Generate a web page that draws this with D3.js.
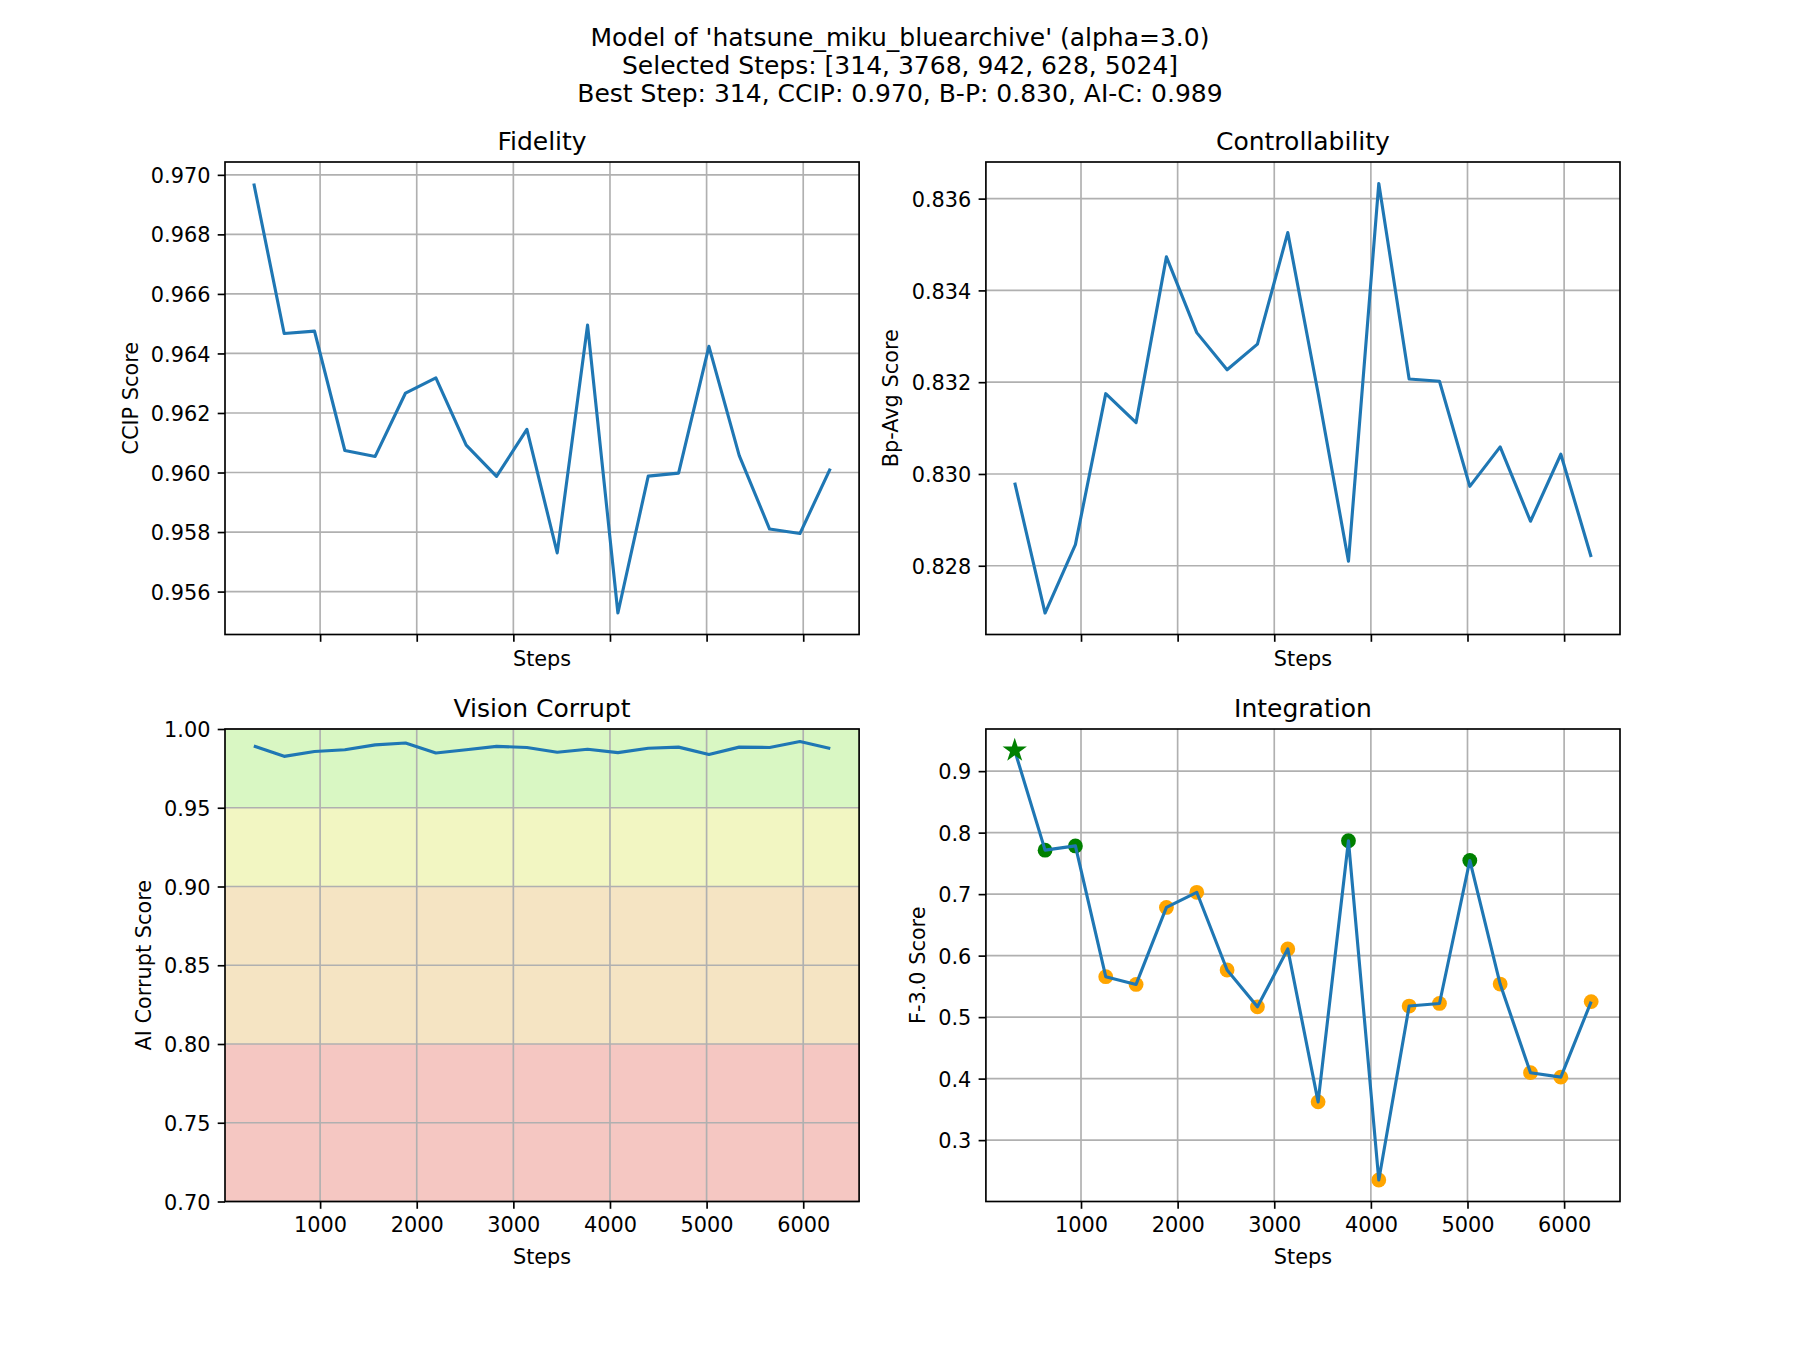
<!DOCTYPE html>
<html>
<head>
<meta charset="utf-8">
<script src="https://cdn.jsdelivr.net/npm/d3@7"></script>
<style>
  html, body { margin: 0; padding: 0; background: #ffffff; }
  svg { display: block; }
  text { font-family: "DejaVu Sans", sans-serif; fill: #000; }
</style>
</head>
<body>
<svg id="chart" width="1800" height="1350"></svg>
<script>
// ---------------- data ----------------
const steps = [314, 628, 942, 1256, 1570, 1884, 2198, 2512, 2826, 3140,
               3454, 3768, 4082, 4396, 4710, 5024, 5338, 5652, 5966, 6280];
const ccipScore = [0.96971, 0.96467, 0.96475, 0.96074, 0.96054, 0.96267, 0.96318, 0.96092, 0.95987, 0.96145,
                   0.95730, 0.96495, 0.95528, 0.95988, 0.95998, 0.96424, 0.96057, 0.95810, 0.95795, 0.96013];
const bpAvgScore = [0.82981, 0.82697, 0.82846, 0.83175, 0.83112, 0.83473, 0.83308, 0.83227, 0.83283, 0.83526,
                    0.83176, 0.82810, 0.83633, 0.83207, 0.83202, 0.82973, 0.83059, 0.82897, 0.83043, 0.82819];
const aiCorruptScore = [0.98921, 0.98264, 0.98569, 0.98686, 0.98991, 0.99108, 0.98475, 0.98686, 0.98897, 0.98827,
                        0.98522, 0.98710, 0.98498, 0.98780, 0.98850, 0.98381, 0.98850, 0.98827, 0.99202, 0.98756];
const f3Score = [0.9336, 0.7715, 0.7784, 0.5658, 0.5532, 0.6784, 0.7030, 0.5766, 0.5168, 0.6108,
                 0.3622, 0.7868, 0.2351, 0.5180, 0.5222, 0.7547, 0.5538, 0.4096, 0.4024, 0.5252];
const selectedSteps = [314, 3768, 942, 628, 5024];
const bestStep = 314;
const xTickValues = [1000, 2000, 3000, 4000, 5000, 6000];
const ccipTicks = [0.956, 0.958, 0.960, 0.962, 0.964, 0.966, 0.968, 0.970];
const bpTicks = [0.828, 0.830, 0.832, 0.834, 0.836];
const aiTicks = [0.70, 0.75, 0.80, 0.85, 0.90, 0.95, 1.00];
const f3Ticks = [0.3, 0.4, 0.5, 0.6, 0.7, 0.8, 0.9];
const bandRanges = [[0.95, 1.0], [0.9, 0.95], [0.8, 0.9], [0.7, 0.8]];
const bandColors = ["#d9f7c3", "#f2f6c2", "#f5e4c3", "#f5c7c2"];
const titleLines = [
  "Model of 'hatsune_miku_bluearchive' (alpha=3.0)",
  "Selected Steps: [314, 3768, 942, 628, 5024]",
  "Best Step: 314, CCIP: 0.970, B-P: 0.830, AI-C: 0.989"
];

// ---------------- layout ----------------
const svg = d3.select("#chart");
const FS = 20.83, TFS = 25;
const TICK = 7.3, PAD = 7.3, LPAD = 8.3;
const LW = 3.125, GRID_W = 1.67, SPINE_W = 1.67;
const BLUE = "#1f77b4";

svg.append("rect").attr("width", 1800).attr("height", 1350).attr("fill", "#fff");

// suptitle
titleLines.forEach((t, i) => {
  svg.append("text").attr("x", 900).attr("y", 45.5 + i * 28.2)
    .attr("text-anchor", "middle").attr("font-size", TFS).text(t);
});

const axW = 634.1, axH = 472.5;
const cols = [225, 985.9], rows = [162, 729];

const xPad = (d3.max(steps) - d3.min(steps)) * 0.05;
function padExtent(vals) {
  const [a, b] = d3.extent(vals); const m = (b - a) * 0.05; return [a - m, b + m];
}

function panel(opts) {
  const x0 = opts.x0, y0 = opts.y0;
  const g = svg.append("g").attr("transform", `translate(${x0},${y0})`);
  const x = d3.scaleLinear().domain([d3.min(steps) - xPad, d3.max(steps) + xPad]).range([0, axW]);
  const y = d3.scaleLinear().domain(opts.yDomain).range([axH, 0]);

  // bands
  if (opts.bands) {
    bandRanges.forEach((r, i) => {
      g.append("rect").attr("x", 0).attr("width", axW)
        .attr("y", y(r[1])).attr("height", y(r[0]) - y(r[1]))
        .attr("fill", bandColors[i]);
    });
  }
  // grid
  const grid = g.append("g");
  xTickValues.forEach(v => grid.append("line").attr("x1", x(v)).attr("x2", x(v))
    .attr("y1", 0).attr("y2", axH).attr("stroke", "#b0b0b0").attr("stroke-width", GRID_W));
  opts.yTicks.forEach(v => grid.append("line").attr("y1", y(v)).attr("y2", y(v))
    .attr("x1", 0).attr("x2", axW).attr("stroke", "#b0b0b0").attr("stroke-width", GRID_W));

  // scatter markers (drawn below line)
  if (opts.markers) {
    steps.forEach((s, i) => {
      if (s === bestStep) return;
      g.append("circle").attr("cx", x(s)).attr("cy", y(opts.values[i])).attr("r", 7.4)
        .attr("fill", selectedSteps.includes(s) ? "#008000" : "#ffa500");
    });
  }

  // line
  const line = d3.line().x((d, i) => x(steps[i])).y(d => y(d));
  g.append("path").datum(opts.values).attr("d", line).attr("fill", "none")
    .attr("stroke", BLUE).attr("stroke-width", LW).attr("stroke-linejoin", "round");

  if (opts.markers) {
    const bi = steps.indexOf(bestStep);
    const star = d3.symbol().type(d3.symbolStar).size(Math.PI * 0); // placeholder
    // build star path manually (matplotlib-like 5 point star)
    const R = 12.8, r = R * 0.381966;
    const pts = [];
    for (let k = 0; k < 10; k++) {
      const ang = -Math.PI / 2 + k * Math.PI / 5;
      const rad = k % 2 === 0 ? R : r;
      pts.push([rad * Math.cos(ang), rad * Math.sin(ang)]);
    }
    g.append("path").attr("d", "M" + pts.map(p => p.join(",")).join("L") + "Z")
      .attr("transform", `translate(${x(bestStep)},${y(opts.values[bi])})`)
      .attr("fill", "#008000");
  }

  // axes
  const yAxis = d3.axisLeft(y).tickValues(opts.yTicks).tickFormat(d3.format(opts.yFmt))
    .tickSize(TICK).tickSizeOuter(0).tickPadding(PAD);
  const ya = g.append("g").call(yAxis);
  ya.select(".domain").remove();
  ya.selectAll("line").attr("stroke", "#000").attr("stroke-width", SPINE_W);
  ya.selectAll("text").attr("font-size", FS).attr("font-family", "DejaVu Sans").attr("dy", "0.365em").attr("fill", "#000");

  const xAxis = d3.axisBottom(x).tickValues(xTickValues).tickFormat(opts.showX ? d3.format("d") : () => "")
    .tickSize(TICK).tickSizeOuter(0).tickPadding(PAD);
  const xa = g.append("g").attr("transform", `translate(0,${axH})`).call(xAxis);
  xa.select(".domain").remove();
  xa.selectAll("line").attr("stroke", "#000").attr("stroke-width", SPINE_W);
  xa.selectAll("text").attr("font-size", FS).attr("font-family", "DejaVu Sans").attr("dy", "0.78em").attr("fill", "#000");

  // spines
  g.append("rect").attr("x", 0).attr("y", 0).attr("width", axW).attr("height", axH)
    .attr("fill", "none").attr("stroke", "#000").attr("stroke-width", SPINE_W);

  // title
  g.append("text").attr("x", axW / 2).attr("y", -12.5).attr("text-anchor", "middle")
    .attr("font-size", TFS).text(opts.title);

  // x label
  const xlY = opts.showX ? axH + TICK + PAD + FS * 1.16 + LPAD + 15.8 : axH + TICK + LPAD + 15.8;
  g.append("text").attr("x", axW / 2).attr("y", xlY).attr("text-anchor", "middle")
    .attr("font-size", FS).text("Steps");

  // y label
  let maxW = 0;
  ya.selectAll("text").each(function () { maxW = Math.max(maxW, this.getBBox().width); });
  const right = -(TICK + PAD + maxW + LPAD);
  const bx = right - 4.9;
  g.append("text").attr("transform", `translate(${bx},${axH / 2}) rotate(-90)`)
    .attr("text-anchor", "middle").attr("font-size", FS).text(opts.ylabel);
}

panel({ x0: cols[0], y0: rows[0], values: ccipScore, yDomain: padExtent(ccipScore), yTicks: ccipTicks,
        yFmt: ".3f", title: "Fidelity", ylabel: "CCIP Score", showX: false });
panel({ x0: cols[1], y0: rows[0], values: bpAvgScore, yDomain: padExtent(bpAvgScore), yTicks: bpTicks,
        yFmt: ".3f", title: "Controllability", ylabel: "Bp-Avg Score", showX: false });
panel({ x0: cols[0], y0: rows[1], values: aiCorruptScore, yDomain: [0.7, 1.0], yTicks: aiTicks,
        yFmt: ".2f", title: "Vision Corrupt", ylabel: "AI Corrupt Score", showX: true, bands: true });
panel({ x0: cols[1], y0: rows[1], values: f3Score, yDomain: padExtent(f3Score), yTicks: f3Ticks,
        yFmt: ".1f", title: "Integration", ylabel: "F-3.0 Score", showX: true, markers: true });
</script>
</body>
</html>
